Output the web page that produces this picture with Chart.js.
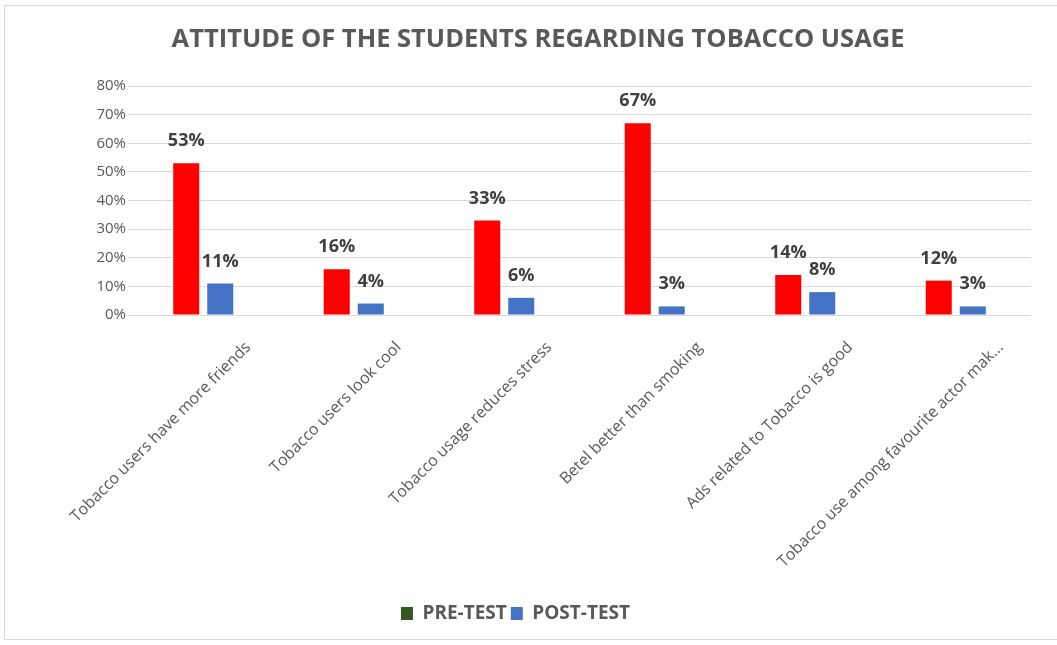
<!DOCTYPE html>
<html>
<head>
<meta charset="utf-8">
<script src="https://cdn.jsdelivr.net/npm/chart.js@4.4.1/dist/chart.umd.min.js"></script>
<style>
  body { margin: 0; background: #fff; }
  #wrap { position: relative; width: 1057px; height: 645px; }
  #frame { position: absolute; left: 4px; top: 5px; width: 1060px; height: 635px;
           border: 1px solid #d9d9d9; border-right: none; box-sizing: border-box; }
  canvas { position: absolute; left: 0; top: 0; }
</style>
</head>
<body>
<div id="wrap">
  <div id="frame"></div>
  <canvas id="attitudeChart" width="1057" height="645"></canvas>
</div>
<script>
const chartTitle = 'ATTITUDE OF THE STUDENTS REGARDING TOBACCO USAGE';
const categories = [
    'Tobacco users have more friends',
    'Tobacco users look cool',
    'Tobacco usage reduces stress',
    'Betel better than smoking',
    'Ads related to Tobacco is good',
    'Tobacco use among favourite actor mak...'
];
const preTest = [53, 16, 33, 67, 14, 12];
const postTest = [11, 4, 6, 3, 8, 3];
const yTicks = [0, 10, 20, 30, 40, 50, 60, 70, 80];

const textGray = '#595959';

// title drawn a bit right of canvas centre, like the original
const titlePlugin = {
    id: 'titlePlugin',
    beforeDraw(chart) {
        const ctx = chart.ctx;
        ctx.save();
        ctx.font = 'bold 25.5px "Open Sans"';
        ctx.fillStyle = textGray;
        ctx.textAlign = 'center';
        ctx.textBaseline = 'middle';
        ctx.fillText(chartTitle, chart.width * 0.509, 40);
        ctx.restore();
    }
};

// value labels above the bars
const barLabels = {
    id: 'barLabels',
    afterDatasetsDraw(chart) {
        const ctx = chart.ctx;
        ctx.save();
        ctx.font = 'bold 18px "Open Sans"';
        ctx.fillStyle = '#404040';
        ctx.textAlign = 'center';
        ctx.textBaseline = 'alphabetic';
        chart.data.datasets.forEach((ds, di) => {
            chart.getDatasetMeta(di).data.forEach((bar, i) => {
                ctx.fillText(ds.data[i] + '%', bar.x, bar.y - 17);
            });
        });
        ctx.restore();
    }
};

new Chart(document.getElementById('attitudeChart'), {
    type: 'bar',
    data: {
        labels: categories,
        datasets: [{
            label: 'PRE-TEST',
            data: preTest,
            backgroundColor: '#ff0000',
            categoryPercentage: 0.452,
            barPercentage: 0.765
        }, {
            label: 'POST-TEST',
            data: postTest,
            backgroundColor: '#4472c4',
            categoryPercentage: 0.452,
            barPercentage: 0.765
        }]
    },
    options: {
        responsive: false,
        animation: false,
        layout: { padding: { left: 0, right: 26, top: 86, bottom: 12 } },
        scales: {
            x: {
                grid: { display: false },
                border: { display: false },
                ticks: {
                    color: textGray,
                    font: { family: '"Open Sans"', size: 16 },
                    minRotation: 45,
                    maxRotation: 45,
                    autoSkip: false,
                    padding: 15,
                    labelOffset: 45
                },
                afterFit(scale) { scale.height = 285; }
            },
            y: {
                min: 0,
                max: 80,
                afterBuildTicks(scale) { scale.ticks = yTicks.map(v => ({ value: v })); },
                grid: { color: '#d9d9d9', drawTicks: false },
                border: { display: false },
                ticks: {
                    color: textGray,
                    font: { family: '"Open Sans"', size: 15 },
                    padding: 2,
                    callback: v => v + '%'
                },
                afterFit(scale) { scale.width = 128; }
            }
        },
        plugins: {
            title: { display: false },
            legend: {
                position: 'bottom',
                labels: {
                    color: textGray,
                    font: { family: '"Open Sans"', size: 19, weight: 'bold' },
                    boxWidth: 12,
                    boxHeight: 13,
                    padding: 4,
                    generateLabels() {
                        return [
                            { text: 'PRE-TEST', fillStyle: '#375623', strokeStyle: '#375623', lineWidth: 0, fontColor: textGray, datasetIndex: 0 },
                            { text: 'POST-TEST', fillStyle: '#4472c4', strokeStyle: '#4472c4', lineWidth: 0, fontColor: textGray, datasetIndex: 1 }
                        ];
                    }
                }
            },
            tooltip: { enabled: false }
        }
    },
    plugins: [titlePlugin, barLabels]
});
</script>
</body>
</html>
